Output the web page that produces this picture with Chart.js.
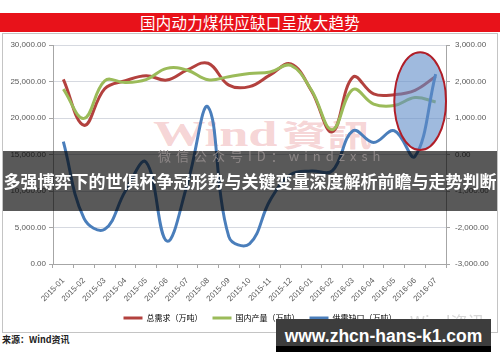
<!DOCTYPE html>
<html>
<head>
<meta charset="utf-8">
<script src="https://cdn.jsdelivr.net/npm/chart.js@4.4.0/dist/chart.umd.min.js"></script>
<style>
  html, body { margin: 0; padding: 0; background: #fff; }
  #wrap { position: relative; width: 500px; height: 362px; overflow: hidden; font-family: "Noto Sans CJK SC", sans-serif; }
  #title { position: absolute; left: 0; top: 13px; width: 500px; height: 19px; background: #e8121a; color: #fff; font-size: 15.5px; line-height: 19px; text-align: center; letter-spacing: 0.2px; }
  #frame { position: absolute; left: 2px; top: 33px; width: 494px; height: 298px; border: 1px solid #c4c4c4; }
  #wm1 { position: absolute; left: 153px; top: 116px; font-family: "Liberation Serif", serif; font-weight: bold; font-size: 35px; line-height: 35px; color: rgba(225,110,115,0.3); white-space: nowrap; transform: scaleX(1.5); transform-origin: 0 0; }
  #wm1 span { font-family: "Noto Sans CJK SC", sans-serif; font-size: 30px; margin-left: 3px; }
  #wm2 { position: absolute; left: 158px; top: 149px; font-size: 13px; line-height: 14px; letter-spacing: 5px; color: #8c8686; white-space: nowrap; z-index: 2; }
  #chart { position: absolute; left: 0; top: 0; z-index: 1; }
  #banner { position: absolute; left: 3px; top: 151px; width: 494px; height: 60px; background: rgba(0,0,0,0.65); color: #fff; font-weight: bold; font-size: 17px; line-height: 60px; text-align: center; white-space: nowrap; z-index: 2; }
  #wm3 { position: absolute; left: 410px; top: 309px; font-size: 17px; color: #d8d8d8; white-space: nowrap; z-index: 2; }
  #site { position: absolute; left: 276px; top: 319px; width: 215px; height: 33px; background: linear-gradient(#3d3d3d 0, #3d3d3d 27px, #000 27px); color: #fff; font-family: "Liberation Sans", sans-serif; font-weight: bold; font-size: 17.5px; line-height: 35px; text-align: center; white-space: nowrap; z-index: 3; }
  #source { position: absolute; left: 2px; top: 333px; font-size: 9px; font-weight: bold; color: #222; white-space: nowrap; }
</style>
</head>
<body>
<div id="wrap">
  <div id="title">国内动力煤供应缺口呈放大趋势</div>
  <div id="frame"></div>
  <div id="wm1">Wind<span>資訊</span></div>
  <canvas id="chart" width="500" height="362"></canvas>
  <div id="banner">多强博弈下的世俱杯争冠形势与关键变量深度解析前瞻与走势判断</div>
  <div id="wm2">微信公众号ID：windzxsh</div>
  <div id="wm3">Wind资讯</div>
  <div id="site">www.zhcn-hans-k1.com</div>
  <div id="source">来源：Wind资讯</div>
</div>
<script>
const months = ['2015-01', '2015-02', '2015-03', '2015-04', '2015-05', '2015-06', '2015-07', '2015-08', '2015-09', '2015-10',
	'2015-11', '2015-12', '2016-01', '2016-02', '2016-03', '2016-04', '2016-05', '2016-06', '2016-07']
const demand = [25300, 19000, 24000, 25100, 25800, 25200, 26600, 27500, 24500, 24300, 25900, 27400, 23700, 18100, 25600, 23300, 23200, 23800, 25700]
const output = [23950, 19950, 25100, 24850, 25250, 26800, 26550, 25250, 25650, 26100, 26300, 27200, 23800, 18400, 23900, 21900, 21700, 22800, 22200]
const gap = [350, -1750, -2050, -1000, -210, -2370, -800, 1300, -2250, -2450, -1250, -550, -450, -450, 650, 330, 650, -50, 2200]
const leftTicks = [0, 5000, 10000, 15000, 20000, 25000, 30000]
const rightTicks = [-3000, -2000, -1000, 0, 1000, 2000, 3000]

// highlighted zone (the ellipse), in data units
const zoneFrom = '2016-05'
const zoneTop = 29000
const zoneBottom = 15600

const fmt = (v) => v.toLocaleString('en-US', { minimumFractionDigits: 2, maximumFractionDigits: 2 })
const tickFont = { family: 'Liberation Sans', size: 8 }
const axisGray = '#a6a6a6'

const zonePlugin = {
	id: 'zone',
	afterLayout(chart) {
		// let the left tick labels use the whole margin instead of being clipped
		const s = chart.scales.y
		s.left = 0
		s.width = s.right
	},
	afterDatasetsDraw(chart) {
		const { ctx, chartArea, scales } = chart
		const x1 = scales.x.getPixelForValue(months.indexOf(zoneFrom))
		const x2 = chartArea.right
		const y1 = scales.y.getPixelForValue(zoneTop)
		const y2 = scales.y.getPixelForValue(zoneBottom)
		ctx.save()
		ctx.beginPath()
		ctx.ellipse((x1 + x2) / 2, (y1 + y2) / 2, (x2 - x1) / 2, (y2 - y1) / 2, 0, 0, Math.PI * 2)
		ctx.fillStyle = 'rgba(95,140,200,0.6)'
		ctx.fill()
		ctx.lineWidth = 2
		ctx.strokeStyle = '#b01e28'
		ctx.stroke()
		ctx.restore()
	}
}

new Chart(document.getElementById('chart'), {
	type: 'line',
	data: {
		labels: months,
		datasets: [
			{ label: '总需求（万吨）', data: demand, borderColor: '#b3413e', yAxisID: 'y', order: 2 },
			{ label: '国内产量（万吨）', data: output, borderColor: '#9bbb59', yAxisID: 'y', order: 1 },
			{ label: '供需缺口（万吨）', data: gap, borderColor: '#4a7ebb', yAxisID: 'y1', order: 0 }
		]
	},
	options: {
		responsive: false,
		animation: false,
		devicePixelRatio: 1,
		layout: { padding: { top: 45, left: 20, right: 0, bottom: 30 } },
		elements: {
			line: { borderWidth: 3, tension: 0.4, fill: false },
			point: { radius: 0 }
		},
		plugins: {
			tooltip: { enabled: false },
			legend: {
				position: 'bottom',
				labels: {
					boxWidth: 19,
					boxHeight: 3,
					padding: 10,
					color: '#404040',
					font: { family: 'Noto Sans CJK SC', size: 8 },
					generateLabels: (chart) => chart.data.datasets.map((ds, i) => ({
						text: ds.label,
						fillStyle: ds.borderColor,
						strokeStyle: ds.borderColor,
						lineWidth: 0,
						hidden: false,
						datasetIndex: i
					}))
				}
			}
		},
		scales: {
			x: {
				offset: true,
				afterFit: (scale) => { scale.height = 40 },
				border: { color: axisGray },
				grid: { offset: true, drawOnChartArea: false, tickLength: 4, tickColor: axisGray },
				ticks: { autoSkip: false, maxRotation: 45, minRotation: 45, padding: 8, color: '#595959', font: tickFont }
			},
			y: {
				position: 'left',
				min: leftTicks[0],
				max: leftTicks[leftTicks.length - 1],
				afterFit: (scale) => { scale.width = 33 },
				border: { color: axisGray },
				grid: { color: '#d6d9e0', tickLength: 4, tickColor: axisGray },
				ticks: { stepSize: leftTicks[1] - leftTicks[0], padding: 3, color: '#595959', font: tickFont, callback: (v) => fmt(v) }
			},
			y1: {
				position: 'right',
				min: rightTicks[0],
				max: rightTicks[rightTicks.length - 1],
				afterFit: (scale) => { scale.width = 54 },
				border: { color: axisGray },
				grid: { drawOnChartArea: false, tickLength: 4, tickColor: axisGray },
				ticks: { stepSize: rightTicks[1] - rightTicks[0], padding: 5, color: '#595959', font: tickFont, callback: (v) => fmt(v) }
			}
		}
	},
	plugins: [zonePlugin]
})
</script>
</body>
</html>
